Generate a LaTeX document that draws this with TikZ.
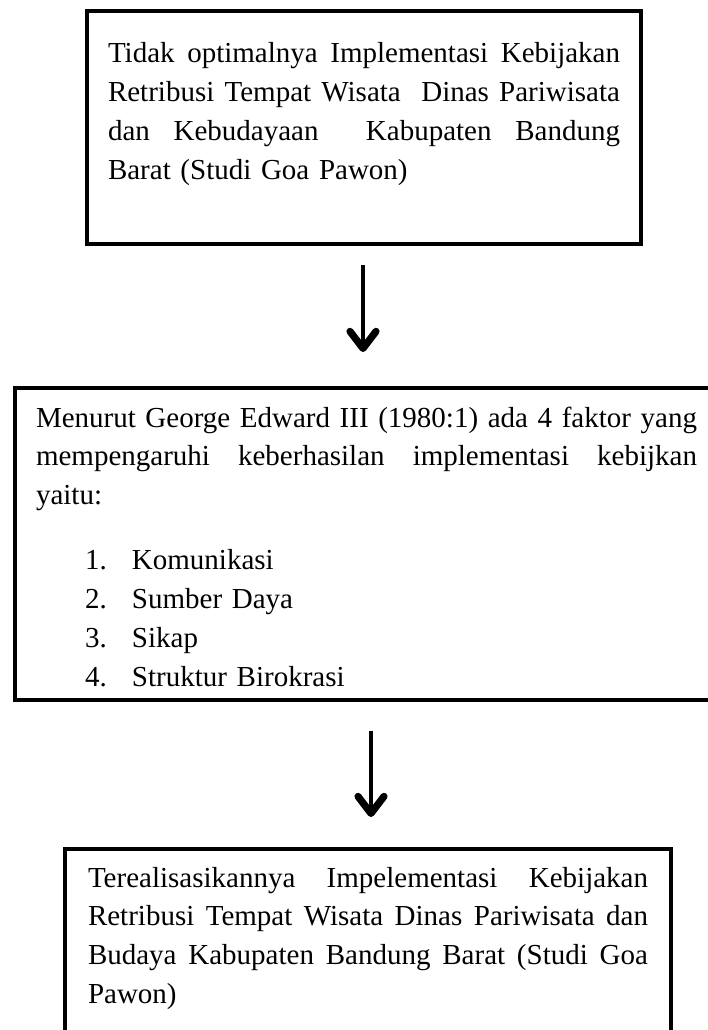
\documentclass[tikz,border=0pt]{standalone}
\usepackage{fontspec}
\setmainfont{Liberation Serif}
\usetikzlibrary{arrows.meta}
\setlength{\parindent}{0pt}
\newcommand{\jline}[2]{\leavevmode\hbox to #1{\spaceskip=0.25em plus 1fil\relax #2}}
\begin{document}
\begin{tikzpicture}[x=1pt,y=1pt,
  box/.style={draw, line width=4pt, outer sep=0pt, inner ysep=0pt, align=left,
    font=\fontsize{29pt}{38.8pt}\selectfont, anchor=north west},
  arr/.style={line width=4.5pt, -{Straight Barb[length=17pt,width=26pt,line width=0pt 1.6,round]}}]
\useasboundingbox (0,0) rectangle (708,-1030);
\clip (0,0) rectangle (708,-1030);
\node[box, inner xsep=21pt, text width=512pt] (b1) at (87,-11) {%
\rule{0pt}{52pt}\jline{512pt}{Tidak optimalnya Implementasi Kebijakan}\\
\jline{512pt}{Retribusi Tempat Wisata\ \ Dinas Pariwisata}\\
\jline{512pt}{dan Kebudayaan\ \ Kabupaten Bandung}\\
Barat (Studi Goa Pawon)\rule[-65pt]{0pt}{65pt}};
\node[box, inner xsep=21.5pt, text width=661pt] (b2) at (14.5,-388) {%
\rule{0pt}{39pt}\jline{661pt}{Menurut George Edward III (1980:1) ada 4 faktor yang}\\
\jline{661pt}{mempengaruhi keberhasilan implementasi kebijkan}\\
yaitu:\\[26.2pt]
\hspace*{49pt}\makebox[47pt][l]{1.}Komunikasi\\
\hspace*{49pt}\makebox[47pt][l]{2.}Sumber Daya\\
\hspace*{49pt}\makebox[47pt][l]{3.}Sikap\\
\hspace*{49pt}\makebox[47pt][l]{4.}Struktur Birokrasi\rule[-13.5pt]{0pt}{13.5pt}};
\node[box, inner xsep=23pt, text width=560pt] (b3) at (65,-849) {%
\rule{0pt}{38pt}\jline{560pt}{Terealisasikannya Impelementasi Kebijakan}\\
\jline{560pt}{Retribusi Tempat Wisata Dinas Pariwisata dan}\\
\jline{560pt}{Budaya Kabupaten Bandung Barat (Studi Goa}\\
Pawon)\rule[-45pt]{0pt}{45pt}};
\coordinate (a1) at (363,0);
\coordinate (a2) at (371,0);
\draw[arr, shorten <=21pt, shorten >=36pt] (b1.south -| a1) -- (b2.north -| a1);
\draw[arr, shorten <=31.5pt, shorten >=32pt] (b2.south -| a2) -- (b3.north -| a2);
\end{tikzpicture}
\end{document}
